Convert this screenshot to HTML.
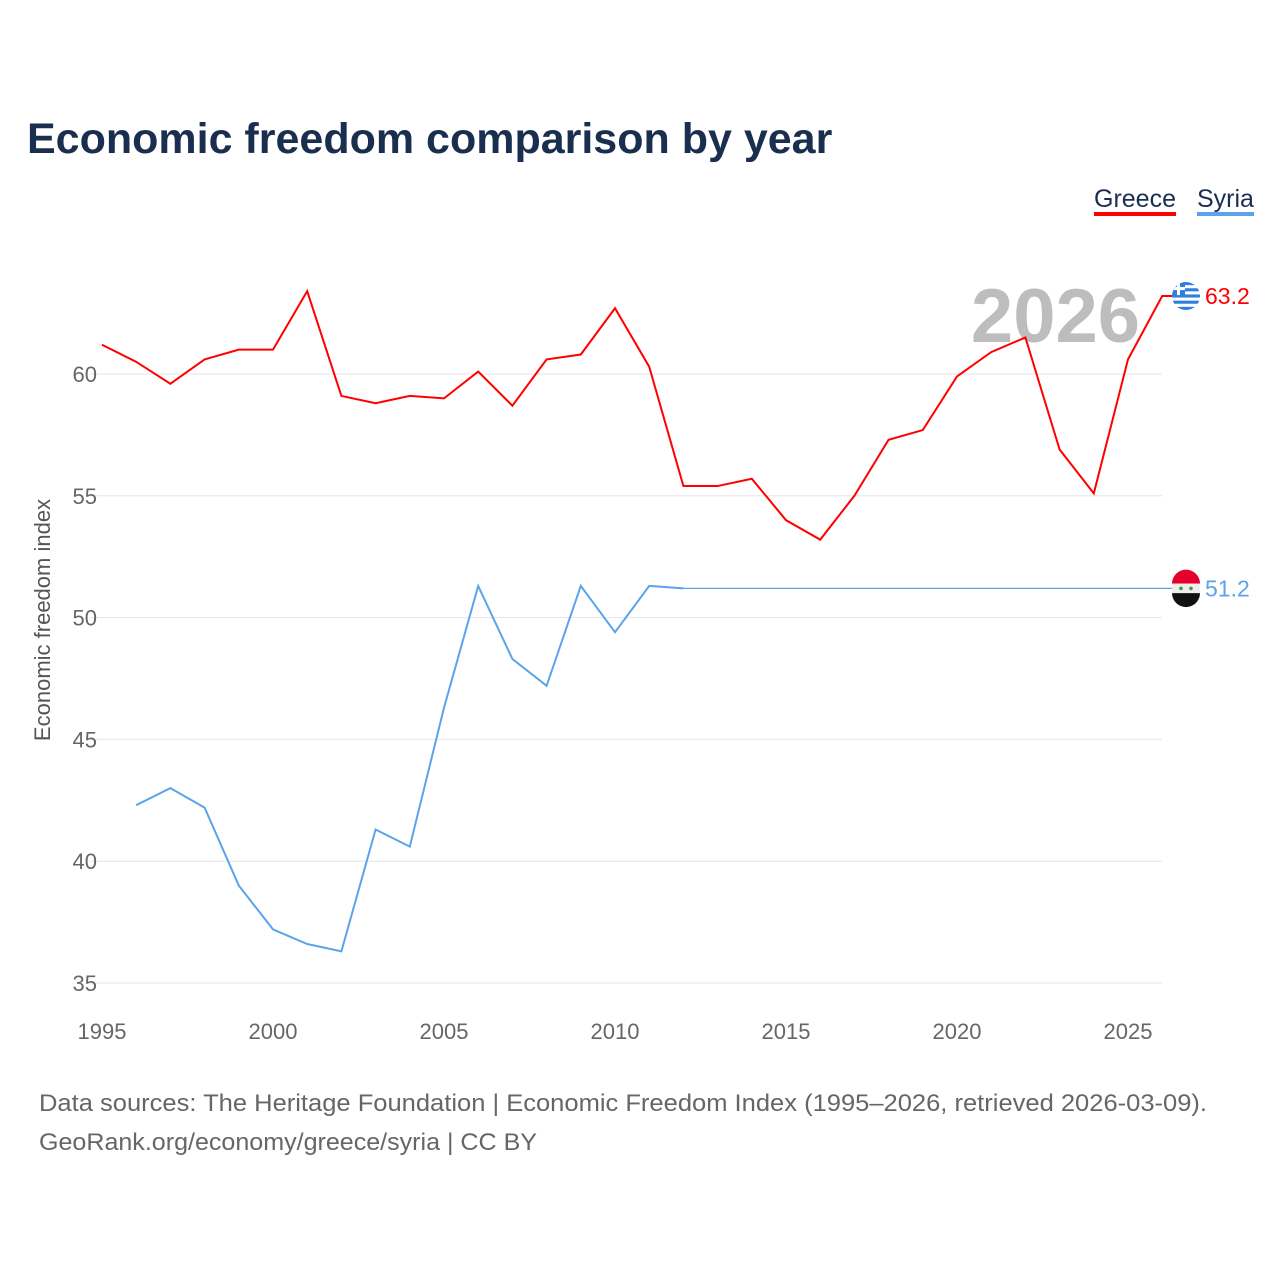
<!DOCTYPE html>
<html><head><meta charset="utf-8"><style>
body{margin:0;background:#fff;font-family:"Liberation Sans",sans-serif;}
svg text{font-family:"Liberation Sans",sans-serif;}
</style></head><body>
<svg id="chart" width="1280" height="1280">
<defs><clipPath id="gclip"><circle id="gclipc" cx="1186" cy="295" r="14"/></clipPath></defs>
<text x="27" y="153" font-size="43" font-weight="bold" fill="#1a2e4f">Economic freedom comparison by year</text>
<g><text x="1094" y="207" font-size="25" fill="#1a2e4f">Greece</text><rect x="1094" y="212" width="82" height="4" fill="#ff0000"/></g>
<g><text x="1197" y="207" font-size="25" fill="#1a2e4f">Syria</text><rect x="1197" y="212" width="57" height="4" fill="#5ba3ea"/></g>
<text x="1140" y="342" font-size="76" font-weight="bold" fill="#bdbdbd" text-anchor="end">2026</text>
<g id="grid"></g><g id="series"></g>
<text transform="translate(50,620) rotate(-90)" font-size="22" fill="#555" text-anchor="middle">Economic freedom index</text>
<text x="39" y="1111" font-size="24" fill="#666" textLength="1168" lengthAdjust="spacingAndGlyphs">Data sources: The Heritage Foundation | Economic Freedom Index (1995–2026, retrieved 2026-03-09).</text>
<text x="39" y="1150" font-size="24" fill="#666" textLength="498" lengthAdjust="spacingAndGlyphs">GeoRank.org/economy/greece/syria | CC BY</text>
</svg>
<script>
const years=[];for(let y=1995;y<=2026;y++)years.push(y);
const greece=[61.2,60.5,59.6,60.6,61.0,61.0,63.4,59.1,58.8,59.1,59.0,60.1,58.7,60.6,60.8,62.7,60.3,55.4,55.4,55.7,54.0,53.2,55.0,57.3,57.7,59.9,60.9,61.5,56.9,55.1,60.6,63.2];
const syria=[null,42.3,43.0,42.2,39.0,37.2,36.6,36.3,41.3,40.6,46.3,51.3,48.3,47.2,51.3,49.4,51.3,51.2];
const syriaLatest=51.2;
const yTicks=[35,40,45,50,55,60];
const xTicks=[1995,2000,2005,2010,2015,2020,2025];
const NS="http://www.w3.org/2000/svg";
const X=y=>102+(y-1995)*34.2, Y=v=>374-(v-60)*24.36;
const grid=document.getElementById('grid'), ser=document.getElementById('series');
function mk(tag,attrs,parent){const e=document.createElementNS(NS,tag);for(const k in attrs)e.setAttribute(k,attrs[k]);parent.appendChild(e);return e;}
yTicks.forEach(t=>{
 const l=mk('line',{x1:90,x2:1162,y1:Y(t),y2:Y(t),stroke:'#e6e6e6','stroke-width':1},grid);
 
 
 const tx=mk('text',{x:97,y:Y(t)+8,'font-size':22,fill:'#666','text-anchor':'end'},grid);tx.textContent=t;
 
 
});
xTicks.forEach(t=>{
 const tx=mk('text',{x:X(t),y:1039,'font-size':22,fill:'#666','text-anchor':'middle'},grid);tx.textContent=t;
 
 
});
const gy=Y(greece[greece.length-1]), sy=Y(syriaLatest), fx=1186;
const gp=mk('polyline',{points:greece.map((v,i)=>X(years[i])+','+Y(v)).join(' ')+' '+(fx-14)+','+gy,fill:'none',stroke:'#ff0000','stroke-width':2},ser);


const sp=[];let last=0;syria.forEach((v,i)=>{if(v!=null){sp.push(X(years[i])+','+Y(v));last=i;}});
const sl=mk('polyline',{points:sp.join(' '),fill:'none',stroke:'#5ba3ea','stroke-width':2},ser);


const se=mk('line',{x1:X(years[last]),x2:fx-14,y1:Y(syria[last]),y2:Y(syriaLatest),stroke:'#5ba3ea','stroke-width':1.3},ser);


document.getElementById('gclipc').setAttribute('cy',gy);
const gf=mk('g',{'clip-path':'url(#gclip)'},ser);


mk('rect',{x:fx-14,y:gy-14,width:28,height:28,fill:'#fff'},gf);
for(let i=0;i<5;i++)mk('rect',{x:fx-14,y:gy-14+i*6.2,width:28,height:3.1,fill:'#2f7fe0'},gf);
mk('rect',{x:fx-14,y:gy-14,width:13,height:13,fill:'#2f7fe0'},gf);
mk('rect',{x:fx-9,y:gy-14,width:3,height:13,fill:'#fff'},gf);
mk('rect',{x:fx-14,y:gy-9,width:13,height:3,fill:'#fff'},gf);
const sf=mk('g',{},ser);


mk('path',{d:`M${fx-14},${sy-4.7} A14,14 0 0 1 ${fx+14},${sy-4.7} Z`,fill:'#e4002b'},sf);
mk('rect',{x:fx-14,y:sy-4.7,width:28,height:9.4,fill:'#eee'},sf);
mk('path',{d:`M${fx-14},${sy+4.7} A14,14 0 0 0 ${fx+14},${sy+4.7} Z`,fill:'#111'},sf);
mk('circle',{cx:fx-5,cy:sy,r:1.8,fill:'#3a9a3a'},sf);mk('circle',{cx:fx+5,cy:sy,r:1.8,fill:'#3a9a3a'},sf);
const gl=mk('text',{x:1205,y:gy+8,'font-size':23,fill:'#ff0000'},ser);gl.textContent=greece[greece.length-1].toFixed(1);


const slb=mk('text',{x:1205,y:sy+8,'font-size':23,fill:'#5ba3ea'},ser);slb.textContent=syriaLatest.toFixed(1);


</script>
</body></html>
